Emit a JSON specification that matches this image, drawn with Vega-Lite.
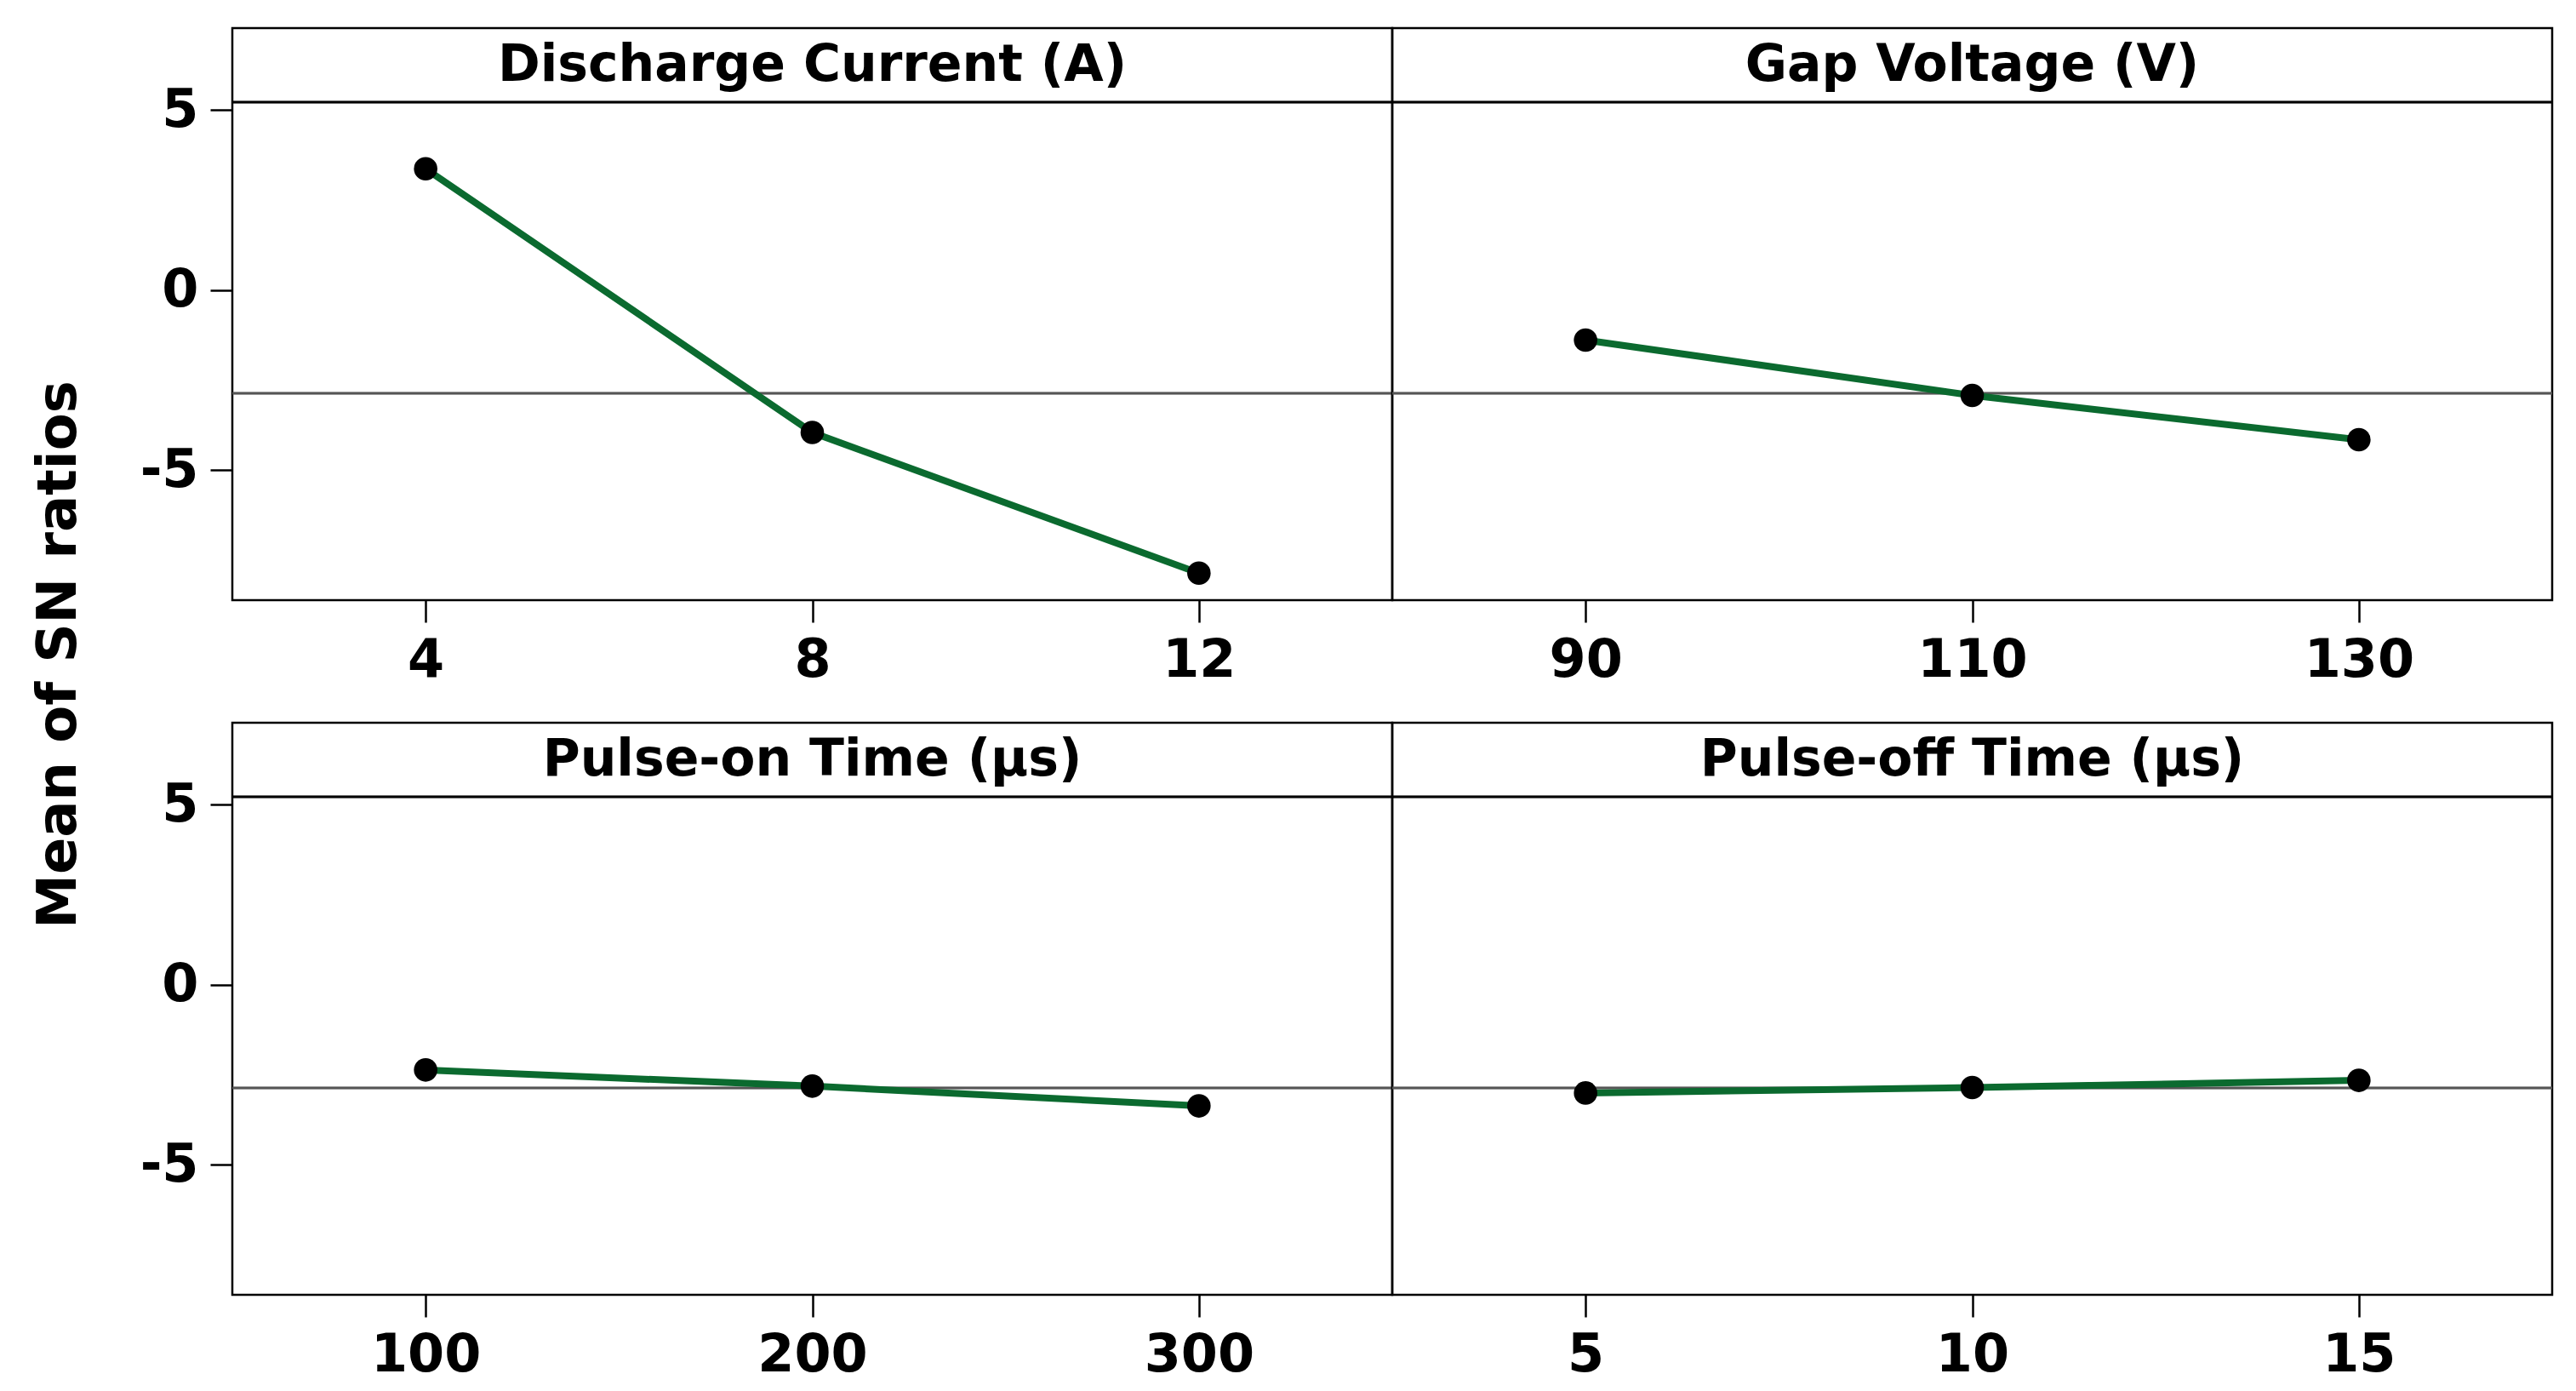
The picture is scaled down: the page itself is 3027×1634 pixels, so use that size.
{
  "$schema": "https://vega.github.io/schema/vega-lite/v6.json",
  "background": "white",
  "padding": {"left": 38, "top": 30, "right": 10, "bottom": 10},
  "bounds": "flush",
  "title": {"text": "Mean of SN ratios", "orient": "left", "anchor": "middle", "font": "DejaVu Sans", "fontSize": 64, "fontWeight": "bold", "color": "black", "offset": 62, "dx": 58},
  "data": {"values": [
    {"factor": "Discharge Current (A)", "level": 4, "sn": 3.37},
    {"factor": "Discharge Current (A)", "level": 8, "sn": -3.96},
    {"factor": "Discharge Current (A)", "level": 12, "sn": -7.87},
    {"factor": "Gap Voltage (V)", "level": 90, "sn": -1.39},
    {"factor": "Gap Voltage (V)", "level": 110, "sn": -2.93},
    {"factor": "Gap Voltage (V)", "level": 130, "sn": -4.16},
    {"factor": "Pulse-on Time (μs)", "level": 100, "sn": -2.37},
    {"factor": "Pulse-on Time (μs)", "level": 200, "sn": -2.82},
    {"factor": "Pulse-on Time (μs)", "level": 300, "sn": -3.37},
    {"factor": "Pulse-off Time (μs)", "level": 5, "sn": -3.01},
    {"factor": "Pulse-off Time (μs)", "level": 10, "sn": -2.86},
    {"factor": "Pulse-off Time (μs)", "level": 15, "sn": -2.66}
  ]},
  "facet": {
    "field": "factor", "type": "nominal",
    "sort": ["Discharge Current (A)", "Gap Voltage (V)", "Pulse-on Time (μs)", "Pulse-off Time (μs)"],
    "title": null,
    "header": {"labelExpr": "''", "labelFontSize": 1, "labelPadding": 0}
  },
  "columns": 2,
  "spacing": {"row": 144, "column": 0},
  "resolve": {"scale": {"x": "independent"}},
  "spec": {
    "width": 1363,
    "height": 672,
    "layer": [
      {
        "mark": {"type": "rule", "color": "#555555", "strokeWidth": 2.5},
        "encoding": {"y": {"datum": -2.87, "type": "quantitative", "title": null, "scale": {"domain": [-8.62, 7.28], "nice": false, "zero": false}, "axis": {"values": [-5, 0, 5], "labelExpr": "'' + datum.value"}}}
      },
      {
        "mark": {"type": "rule", "color": "black", "strokeWidth": 2.5},
        "encoding": {"y": {"datum": 5.22, "type": "quantitative", "title": null, "scale": {"domain": [-8.62, 7.28], "nice": false, "zero": false}, "axis": {"values": [-5, 0, 5], "labelExpr": "'' + datum.value"}}}
      },
      {
        "transform": [
          {"joinaggregate": [{"op": "median", "field": "level", "as": "mid"}], "groupby": ["factor"]},
          {"filter": "datum.level == datum.mid"}
        ],
        "mark": {"type": "text", "font": "DejaVu Sans", "fontSize": 60, "fontWeight": "bold", "color": "black", "baseline": "alphabetic", "align": "center"},
        "encoding": {
          "x": {"field": "level", "type": "ordinal", "title": null, "scale": {"type": "point", "padding": 0.5}, "axis": {"labelAngle": 0}},
          "y": {"datum": 5.81, "type": "quantitative", "title": null, "scale": {"domain": [-8.62, 7.28], "nice": false, "zero": false}, "axis": {"values": [-5, 0, 5], "labelExpr": "'' + datum.value"}},
          "text": {"field": "factor", "type": "nominal"}
        }
      },
      {
        "mark": {"type": "line", "color": "#0b6a2f", "strokeWidth": 8},
        "encoding": {
          "x": {"field": "level", "type": "ordinal", "title": null, "scale": {"type": "point", "padding": 0.5}, "axis": {"labelAngle": 0}},
          "y": {"field": "sn", "type": "quantitative", "title": null, "scale": {"domain": [-8.62, 7.28], "nice": false, "zero": false}, "axis": {"values": [-5, 0, 5], "labelExpr": "'' + datum.value"}}
        }
      },
      {
        "mark": {"type": "point", "filled": true, "color": "black", "size": 760, "opacity": 1},
        "encoding": {
          "x": {"field": "level", "type": "ordinal", "title": null, "scale": {"type": "point", "padding": 0.5}, "axis": {"labelAngle": 0}},
          "y": {"field": "sn", "type": "quantitative", "title": null, "scale": {"domain": [-8.62, 7.28], "nice": false, "zero": false}, "axis": {"values": [-5, 0, 5], "labelExpr": "'' + datum.value"}}
        }
      }
    ]
  },
  "config": {
    "view": {"stroke": "black", "strokeWidth": 2.5},
    "axis": {"labelFont": "DejaVu Sans", "labelFontSize": 62, "labelFontWeight": "bold", "labelColor": "black", "tickColor": "black", "tickWidth": 2.5, "tickSize": 26, "labelPadding": 14, "domain": false, "grid": false}
  }
}
